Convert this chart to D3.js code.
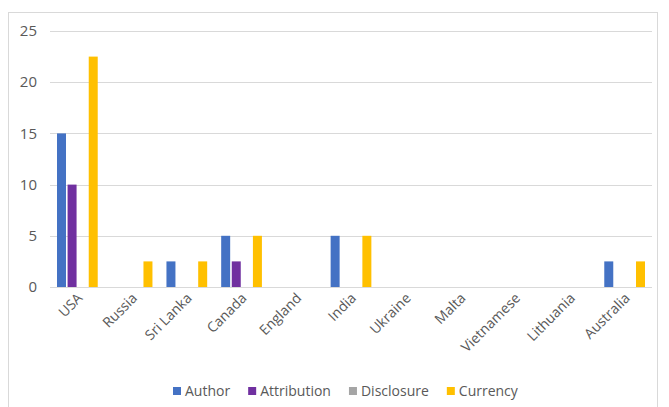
<!DOCTYPE html>
<html>
<head>
<meta charset="utf-8">
<script src="https://cdn.jsdelivr.net/npm/d3@7"></script>
<style>
  body { margin: 0; background: #fff; }
  text { font-family: "Open Sans", "Liberation Sans", sans-serif; fill: #595959; }
</style>
</head>
<body>
<div id="chart"></div>
<script>
const countries = ["USA", "Russia", "Sri Lanka", "Canada", "England", "India", "Ukraine", "Malta", "Vietnamese", "Lithuania", "Australia"];
const seriesNames = ["Author", "Attribution", "Disclosure", "Currency"];
const author      = [15, 0, 2.5, 5, 0, 5, 0, 0, 0, 0, 2.5];
const attribution = [10, 0, 0, 2.5, 0, 0, 0, 0, 0, 0, 0];
const disclosure  = [0, 0, 0, 0, 0, 0, 0, 0, 0, 0, 0];
const currency    = [22.5, 2.5, 2.5, 5, 0, 5, 0, 0, 0, 0, 2.5];
const yTicks = [0, 5, 10, 15, 20, 25];
const colors = ["#4472C4", "#7030A0", "#A5A5A5", "#FFC000"];

const allSeries = [author, attribution, disclosure, currency];
const data = countries.map((c, i) => ({
    country: c,
    values: seriesNames.map((s, k) => ({ key: s, value: allSeries[k][i] }))
}));

const W = 669, H = 407;
const margin = { top: 31, right: 17, bottom: 120, left: 50 };
const width = W - margin.left - margin.right;
const height = 287 - margin.top;

const svg = d3.select("#chart").append("svg")
    .attr("width", W)
    .attr("height", H);

// cadre du graphique
svg.append("rect")
    .attr("x", 8.5).attr("y", 12.5)
    .attr("width", 649).attr("height", 420)
    .attr("fill", "none")
    .attr("stroke", "#d9d9d9");

const g = svg.append("g")
    .attr("transform", `translate(${margin.left}, ${margin.top})`);

const x = d3.scaleBand()
    .domain(countries)
    .range([0, width])
    .paddingInner(0)
    .paddingOuter(0);

const x1 = d3.scaleBand()
    .domain(seriesNames)
    .range([7, x.bandwidth() - 7])
    .paddingInner(0.15);

const y = d3.scaleLinear()
    .domain([0, 25])
    .range([height, 0]);

// gridlines
g.selectAll(".grid")
    .data(yTicks)
    .enter()
    .append("line")
    .attr("x1", 0)
    .attr("x2", width)
    .attr("y1", d => Math.round(y(d)) + 0.5)
    .attr("y2", d => Math.round(y(d)) + 0.5)
    .attr("stroke", "#d9d9d9")
    .attr("stroke-width", 1);

// y labels
g.selectAll(".ylab")
    .data(yTicks)
    .enter()
    .append("text")
    .attr("x", -13)
    .attr("y", d => y(d))
    .attr("dy", "0.35em")
    .attr("text-anchor", "end")
    .style("font-size", "15px")
    .text(d => d);

// bars
const groups = g.selectAll(".grp")
    .data(data)
    .enter()
    .append("g")
    .attr("transform", d => `translate(${x(d.country)}, 0)`);

groups.selectAll("rect")
    .data(d => d.values.filter(v => v.value > 0))
    .enter()
    .append("rect")
    .attr("x", d => x1(d.key))
    .attr("y", d => y(d.value))
    .attr("width", x1.bandwidth())
    .attr("height", d => height - y(d.value))
    .attr("fill", d => colors[seriesNames.indexOf(d.key)]);

// x labels
g.selectAll(".xlab")
    .data(countries)
    .enter()
    .append("text")
    .attr("text-anchor", "end")
    .attr("transform", d => `translate(${x(d) + x.bandwidth() / 2 + 6}, ${height + 12}) rotate(-45)`)
    .style("font-size", "14px")
    .text(d => d);

// legend
const legend = svg.append("g").attr("transform", "translate(173, 391)");
let lx = 0;
seriesNames.forEach((s, i) => {
    const item = legend.append("g").attr("transform", `translate(${lx}, 0)`);
    item.append("rect")
        .attr("x", 0).attr("y", -4)
        .attr("width", 8).attr("height", 8)
        .attr("fill", colors[i]);
    const t = item.append("text")
        .attr("x", 12)
        .attr("dy", "0.35em")
        .style("font-size", "14px")
        .text(s);
    lx += 12 + t.node().getComputedTextLength() + 18;
});
</script>
</body>
</html>
